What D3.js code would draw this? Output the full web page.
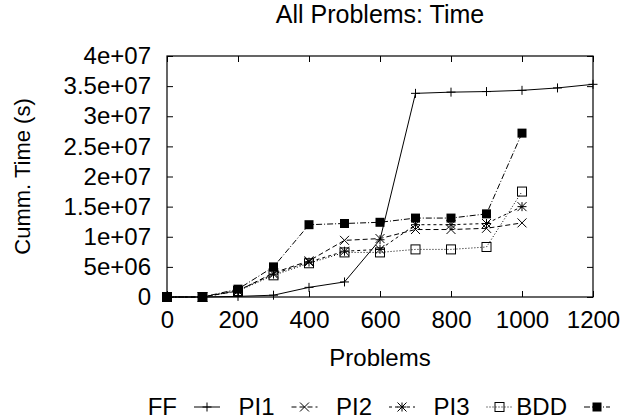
<!DOCTYPE html>
<html>
<head>
<meta charset="utf-8">
<script src="https://cdn.jsdelivr.net/npm/d3@7"></script>
<style>
  body { margin: 0; background: #fff; }
  text { font-family: "Liberation Sans", Arial, sans-serif; fill: #000; }
</style>
</head>
<body>
<div id="wrapper"></div>
<script>
// problems solved (x) and cumulative time (s) per planner
const problems = [0, 100, 200, 300, 400, 500, 600, 700, 800, 900, 1000, 1100, 1200];
const ffTime   = [0, 0, 1e5, 3e5, 1.6e6, 2.5e6, 9.5e6, 33.8e6, 34.0e6, 34.1e6, 34.3e6, 34.7e6, 35.3e6];
const pi1Time  = [0, 0, 1.0e6, 4.0e6, 6.0e6, 9.4e6, 9.7e6, 11.2e6, 11.2e6, 11.4e6, 12.3e6];
const pi2Time  = [0, 0, 1.1e6, 3.8e6, 5.8e6, 7.6e6, 7.9e6, 12.0e6, 12.0e6, 12.2e6, 15.0e6];
const pi3Time  = [0, 0, 1.0e6, 3.6e6, 5.6e6, 7.4e6, 7.4e6, 7.9e6, 7.9e6, 8.3e6, 17.5e6];
const bddTime  = [0, 0, 1.3e6, 5.0e6, 12.0e6, 12.2e6, 12.4e6, 13.1e6, 13.1e6, 13.8e6, 27.2e6];

const seriesNames = ["FF", "PI1", "PI2", "PI3", "BDD"];
const xTicks = [0, 200, 400, 600, 800, 1000, 1200];
const yTicks = [0, 5e6, 1e7, 1.5e7, 2e7, 2.5e7, 3e7, 3.5e7, 4e7];
const yTickLabels = ["0", "5e+06", "1e+07", "1.5e+07", "2e+07", "2.5e+07", "3e+07", "3.5e+07", "4e+07"];

function build() {
    var dimension = {
        width: 622,
        height: 419,
        margin: { top: 56, right: 29, bottom: 122, left: 167 }
    };
    dimension.boundedWidth = dimension.width - dimension.margin.left - dimension.margin.right;
    dimension.boundedHeight = dimension.height - dimension.margin.top - dimension.margin.bottom;

    const styles = [
        { dash: null,      marker: "plus" },
        { dash: "5,3",     marker: "cross" },
        { dash: "3,3",     marker: "star" },
        { dash: "1,2",     marker: "box" },
        { dash: "6,2,1,2", marker: "fbox" }
    ];
    const seriesValues = [ffTime, pi1Time, pi2Time, pi3Time, bddTime];
    const series = seriesNames.map((name, i) => ({ name: name, values: seriesValues[i], ...styles[i] }));

    const x = d3.scaleLinear().domain([0, 1200]).range([0, dimension.boundedWidth]);
    const y = d3.scaleLinear().domain([0, 4e7]).range([dimension.boundedHeight, 0]);

    const wrapper = d3.select("#wrapper")
        .append("svg")
        .attr("width", dimension.width)
        .attr("height", dimension.height);

    const bounds = wrapper.append("g")
        .attr("transform", `translate(${dimension.margin.left},${dimension.margin.top})`);

    // axes with inward ticks, mirrored
    const tickLen = 6;
    bounds.append("g")
        .attr("transform", `translate(0,${dimension.boundedHeight})`)
        .call(d3.axisBottom(x).tickValues(xTicks).tickSizeInner(-tickLen).tickSizeOuter(0).tickPadding(14)
            .tickFormat(d3.format("d")))
        .call(g => g.select(".domain").remove())
        .call(g => g.selectAll("text").attr("font-size", 24));
    bounds.append("g")
        .call(d3.axisTop(x).tickValues(xTicks).tickSizeInner(-tickLen).tickSizeOuter(0).tickFormat(""))
        .call(g => g.select(".domain").remove());
    bounds.append("g")
        .call(d3.axisLeft(y).tickValues(yTicks).tickSizeInner(-tickLen).tickSizeOuter(0).tickPadding(16)
            .tickFormat((d, i) => yTickLabels[i]))
        .call(g => g.select(".domain").remove())
        .call(g => g.selectAll("text").attr("font-size", 24));
    bounds.append("g")
        .attr("transform", `translate(${dimension.boundedWidth},0)`)
        .call(d3.axisRight(y).tickValues(yTicks).tickSizeInner(-tickLen).tickSizeOuter(0).tickFormat(""))
        .call(g => g.select(".domain").remove());
    bounds.selectAll(".tick line").attr("stroke", "#000");

    bounds.append("rect")
        .attr("width", dimension.boundedWidth)
        .attr("height", dimension.boundedHeight)
        .attr("fill", "none")
        .attr("stroke", "#000")
        .attr("stroke-width", 1.2);

    const line = d3.line()
        .x((d, i) => x(problems[i]))
        .y(d => y(d));

    function drawMarker(g, type, cx, cy) {
        const s = 4.5;
        if (type === "plus") {
            g.append("path").attr("d", `M${cx - s},${cy}H${cx + s}M${cx},${cy - s}V${cy + s}`)
                .attr("stroke", "#000").attr("stroke-width", 1);
        } else if (type === "cross") {
            g.append("path").attr("d", `M${cx - s},${cy - s}L${cx + s},${cy + s}M${cx - s},${cy + s}L${cx + s},${cy - s}`)
                .attr("stroke", "#000").attr("stroke-width", 1);
        } else if (type === "star") {
            g.append("path").attr("d", `M${cx - s},${cy - s}L${cx + s},${cy + s}M${cx - s},${cy + s}L${cx + s},${cy - s}M${cx - s},${cy}H${cx + s}M${cx},${cy - s}V${cy + s}`)
                .attr("stroke", "#000").attr("stroke-width", 1);
        } else if (type === "box") {
            g.append("rect").attr("x", cx - s).attr("y", cy - s).attr("width", 2 * s).attr("height", 2 * s)
                .attr("fill", "none").attr("stroke", "#000").attr("stroke-width", 1);
        } else if (type === "fbox") {
            g.append("rect").attr("x", cx - s).attr("y", cy - s).attr("width", 2 * s).attr("height", 2 * s)
                .attr("fill", "#000");
        }
    }

    series.forEach(s => {
        bounds.append("path")
            .datum(s.values)
            .attr("d", line)
            .attr("fill", "none")
            .attr("stroke", "#000")
            .attr("stroke-width", 1)
            .attr("stroke-dasharray", s.dash);
        const mg = bounds.append("g");
        s.values.forEach((v, i) => drawMarker(mg, s.marker, x(problems[i]), y(v)));
    });

    // title and axis labels
    wrapper.append("text")
        .attr("x", dimension.margin.left + dimension.boundedWidth / 2)
        .attr("y", 23)
        .attr("text-anchor", "middle")
        .attr("font-size", 25)
        .text("All Problems: Time");
    wrapper.append("text")
        .attr("x", dimension.margin.left + dimension.boundedWidth / 2)
        .attr("y", 366)
        .attr("text-anchor", "middle")
        .attr("font-size", 24)
        .text("Problems");
    wrapper.append("text")
        .attr("transform", `translate(30,${dimension.margin.top + dimension.boundedHeight / 2}) rotate(-90)`)
        .attr("text-anchor", "middle")
        .attr("font-size", 22)
        .text("Cumm. Time (s)");

    // legend
    const legend = wrapper.append("g");
    series.forEach((s, i) => {
        const cx = 207 + i * 97.5;
        const cy = 407;
        legend.append("text")
            .attr("x", cx - 30)
            .attr("y", cy + 8)
            .attr("text-anchor", "end")
            .attr("font-size", 24)
            .text(s.name);
        legend.append("line")
            .attr("x1", cx - 13).attr("x2", cx + 13)
            .attr("y1", cy).attr("y2", cy)
            .attr("stroke", "#000").attr("stroke-width", 1)
            .attr("stroke-dasharray", s.dash);
        drawMarker(legend, s.marker, cx, cy);
    });
}

build();
</script>
</body>
</html>
